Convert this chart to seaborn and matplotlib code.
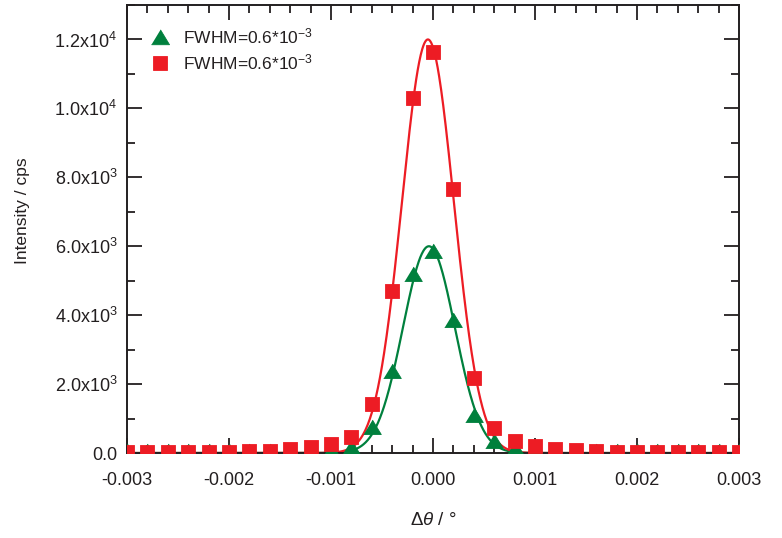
import numpy as np
import pandas as pd
import matplotlib
matplotlib.use("Agg")
import matplotlib.pyplot as plt
from matplotlib.ticker import FixedLocator, FixedFormatter, MultipleLocator
from matplotlib.lines import Line2D
import seaborn as sns

# ---------------- data ----------------
delta_theta = [-0.0030, -0.0028, -0.0026, -0.0024, -0.0022, -0.0020, -0.0018,
               -0.0016, -0.0014, -0.0012, -0.0010, -0.0008, -0.0006, -0.0004,
               -0.0002, 0.0000, 0.0002, 0.0004, 0.0006, 0.0008, 0.0010, 0.0012,
               0.0014, 0.0016, 0.0018, 0.0020, 0.0022, 0.0024, 0.0026, 0.0028,
               0.0030]
green_counts = [55, 55, 55, 55, 55, 55, 55, 55, 55, 60, 80, 180, 755, 2383,
                5201, 5869, 3864, 1104, 360, 150, 80, 60, 55, 55, 55, 55, 55,
                55, 55, 55, 55]
red_counts = [30, 30, 30, 30, 30, 40, 50, 70, 115, 170, 267, 450, 1424, 4707,
              10315, 11622, 7671, 2179, 726, 334, 189, 115, 73, 44, 30, 25, 25,
              25, 25, 25, 25]

# Gaussian fit parameters (amplitude, centre, FWHM)
green_fit = (6000.0, -0.00004, 0.0006)
red_fit = (12000.0, -0.00005, 0.0006)

legend_labels = [r"FWHM=0.6*10$^{\mathregular{-3}}$",
                 r"FWHM=0.6*10$^{\mathregular{-3}}$"]
y_tick_values = [0, 2000, 4000, 6000, 8000, 10000, 12000]
y_tick_labels = [r"0.0", r"2.0x10$^{\mathregular{3}}$", r"4.0x10$^{\mathregular{3}}$",
                 r"6.0x10$^{\mathregular{3}}$", r"8.0x10$^{\mathregular{3}}$",
                 r"1.0x10$^{\mathregular{4}}$", r"1.2x10$^{\mathregular{4}}$"]
x_tick_values = [-0.003, -0.002, -0.001, 0.0, 0.001, 0.002, 0.003]
x_tick_labels = ["-0.003", "-0.002", "-0.001", "0.000", "0.001", "0.002", "0.003"]

# ---------------- style ----------------
sns.set_theme(style="ticks")
plt.rcParams["font.family"] = ["Liberation Sans", "DejaVu Sans"]
plt.rcParams["mathtext.fontset"] = "custom"
plt.rcParams["mathtext.rm"] = "Liberation Sans"
plt.rcParams["mathtext.it"] = "Liberation Sans:italic"
plt.rcParams["mathtext.bf"] = "Liberation Sans:bold"
plt.rcParams["mathtext.sf"] = "Liberation Sans"

GREEN = "#00803D"
RED = "#ED1C24"
INK = "#231F20"

fig = plt.figure(figsize=(7.82, 5.38), dpi=100)
ax = fig.add_axes([127 / 782, (538 - 453) / 538, (739 - 127) / 782, (453 - 5) / 538])

# fitted curves
xf = np.linspace(-0.003, 0.003, 1201)
def gauss(x, p):
    a, c, fwhm = p
    s = fwhm / (2 * np.sqrt(2 * np.log(2)))
    return a * np.exp(-(x - c) ** 2 / (2 * s ** 2))

fit_df = pd.DataFrame({"x": xf, "green": gauss(xf, green_fit), "red": gauss(xf, red_fit)})
sns.lineplot(data=fit_df, x="x", y="green", color=GREEN, lw=1.6, ax=ax, zorder=2)
sns.lineplot(data=fit_df, x="x", y="red", color=RED, lw=1.6, ax=ax, zorder=2)

pts = pd.DataFrame({"x": delta_theta, "green": green_counts, "red": red_counts})
tri = [(-1.0, -0.8), (1.0, -0.8), (0.0, 0.85)]
sns.scatterplot(data=pts, x="x", y="green", marker=tri, s=160, color=GREEN,
                edgecolor=GREEN, linewidth=0.6, ax=ax, zorder=3)
sns.scatterplot(data=pts, x="x", y="red", marker="s", s=105, color=RED,
                edgecolor=RED, linewidth=0.6, ax=ax, zorder=4)

ax.set_xlim(-0.003, 0.003)
ax.set_ylim(0, 13000)

ax.xaxis.set_major_locator(FixedLocator(x_tick_values))
ax.xaxis.set_major_formatter(FixedFormatter(x_tick_labels))
ax.xaxis.set_minor_locator(MultipleLocator(0.0002))
ax.yaxis.set_major_locator(FixedLocator(y_tick_values))
ax.yaxis.set_major_formatter(FixedFormatter(y_tick_labels))
ax.yaxis.set_minor_locator(MultipleLocator(1000))

ax.tick_params(which="both", direction="in", top=True, right=True,
               color=INK, labelcolor=INK, labelsize=13, width=1.3)
ax.tick_params(which="major", length=10.5)
ax.tick_params(which="minor", length=5.5)
ax.tick_params(axis="x", which="major", pad=14)
ax.tick_params(axis="y", which="major", pad=7)
for sp in ax.spines.values():
    sp.set_color(INK)
    sp.set_linewidth(1.4)

ax.set_xlabel(r"$\Delta\mathit{\theta}$ / °", fontsize=13.5, color=INK)
ax.set_ylabel("Intensity / cps", fontsize=12.5, color=INK)
ax.xaxis.set_label_coords(0.5, -0.132)
ax.yaxis.set_label_coords(-0.158, 0.54)

handles = [Line2D([], [], ls="", marker=tri, ms=13, color=GREEN, mec=GREEN, mew=0.6),
           Line2D([], [], ls="", marker="s", ms=10, color=RED, mec=RED, mew=0.6)]
ax.legend(handles, legend_labels, loc="upper left", bbox_to_anchor=(0.037, 0.953),
          frameon=False, fontsize=12.5, handlelength=1.2, handletextpad=0.75,
          labelspacing=0.35, borderpad=0, borderaxespad=0, labelcolor=INK)

fig.savefig("out.png", dpi=100)
